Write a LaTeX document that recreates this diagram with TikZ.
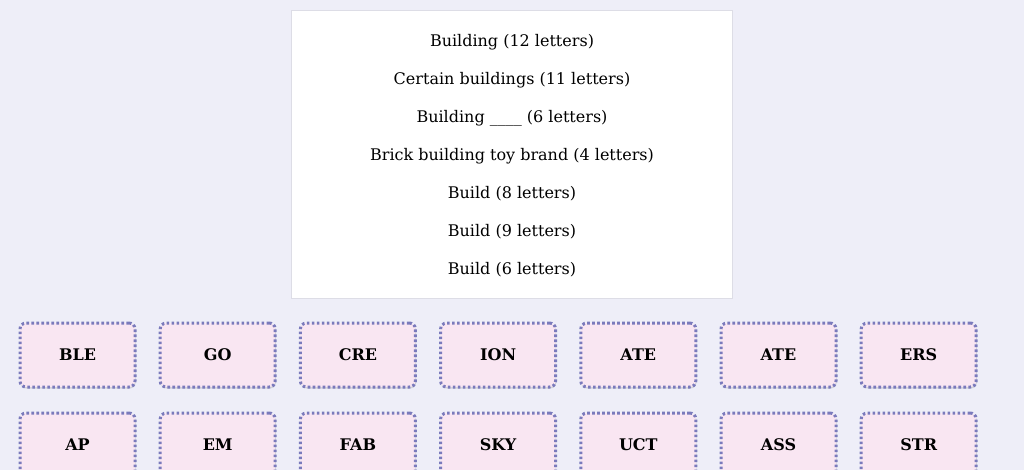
\documentclass[tikz,border=0pt]{standalone}
\usepackage{fontspec}
\setmainfont{DejaVu Serif}
\usetikzlibrary{shadows}
\definecolor{bg}{HTML}{EEEEF8}
\definecolor{tilef}{HTML}{F9E6F2}
\definecolor{tiled}{HTML}{7A7ABC}
\definecolor{boxd}{HTML}{DDDDE6}
\begin{document}
\begin{tikzpicture}[x=1pt,y=-1pt,
  clue/.style={font=\fontsize{16}{19}\selectfont},
  tile/.style={draw=tiled,fill=tilef,line width=3pt,dash pattern=on 2.6pt off 2.4pt,rounded corners=6pt,
    minimum width=115pt,minimum height=64pt,font=\bfseries\fontsize{16}{19}\selectfont,
    drop shadow={shadow xshift=0.6pt,shadow yshift=-1.5pt,opacity=0.25}}]
\clip (0,0) rectangle (1024,470);
\fill[bg] (0,0) rectangle (1024,470);
\useasboundingbox (0,0) rectangle (1024,470);
\node[draw=boxd,fill=white,minimum width=441pt,minimum height=288pt,anchor=north west] (box) at (291,10) {};
\foreach \t [count=\i] in {Building (12 letters),Certain buildings (11 letters),Building \_\_\_\_ (6 letters),Brick building toy brand (4 letters),Build (8 letters),Build (9 letters),Build (6 letters)}
  \node[clue] (c\i) at (512,{4+38*\i}) {\t};
\foreach \t [count=\i] in {BLE,GO,CRE,ION,ATE,ATE,ERS}
  \node[tile] (a\i) at ({77.5+140.2*(\i-1)},355) {\t};
\foreach \t [count=\i] in {AP,EM,FAB,SKY,UCT,ASS,STR}
  \node[tile] (b\i) at ({77.5+140.2*(\i-1)},445) {\t};
\end{tikzpicture}
\end{document}
